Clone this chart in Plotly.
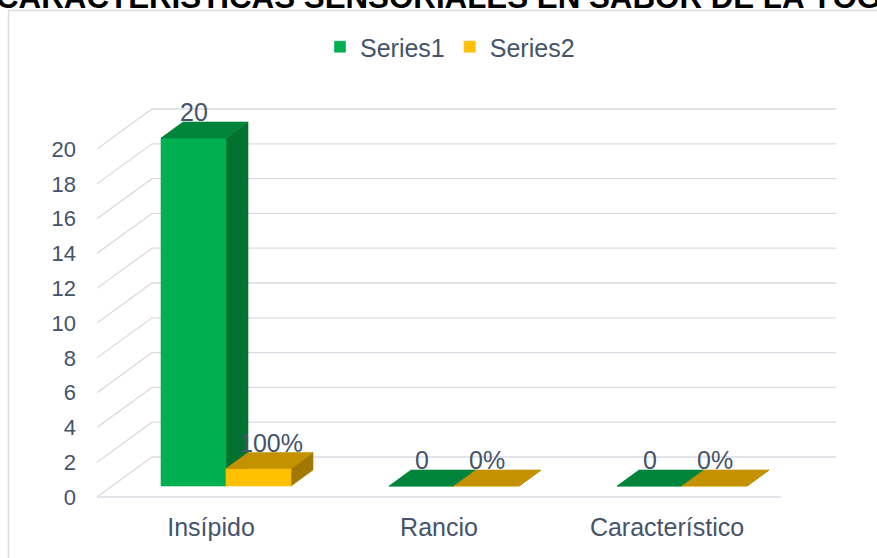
import plotly.graph_objects as go

# ---------------- data ----------------
categories = ["Insípido", "Rancio", "Característico"]
series_names = ["Series1", "Series2"]
series1 = [20, 0, 0]
series2 = [1.0, 0.0, 0.0]          # shown as percentages
y_ticks = [0, 2, 4, 6, 8, 10, 12, 14, 16, 18, 20]
title_text = "CARACTERÍSTICAS SENSORIALES EN SABOR DE LA YOGURT"

# ---------------- styling / geometry ----------------
W, H = 877, 558
TXT = "#44546A"
GRID = "#D9DCE2"
FONT = "Arial, Liberation Sans, sans-serif"
front_cols = ["#00B050", "#FFC000"]
top_cols = ["#00843B", "#C49100"]
side_cols = ["#00712F", "#A17800"]

X0_PX, CAT_PX = 97, 228      # front floor left edge, px per category
Y0_PX, UNIT_PX = 497, 17.4   # front floor y, px per unit
plot_left, plot_right, plot_top, plot_bottom = 97, 845, 95, 502
xr = [-0.5 + (plot_left - X0_PX) / CAT_PX, -0.5 + (plot_right - X0_PX) / CAT_PX]
yr = [(Y0_PX - plot_bottom) / UNIT_PX, (Y0_PX - plot_top) / UNIT_PX]


def px_x(px):
    return (px - plot_left) / (plot_right - plot_left)


def px_y(py):
    return (plot_bottom - py) / (plot_bottom - plot_top)


WALL_DX, WALL_DY = 55 / CAT_PX, 40 / UNIT_PX
BAR_DX, BAR_DY = 15 / CAT_PX, 11 / UNIT_PX
DEP_DX, DEP_DY = 22 / CAT_PX, 16 / UNIT_PX
BAR_W = 65 / CAT_PX

fig = go.Figure()

# back wall gridlines + left diagonals + floor front edge
gx, gy = [], []
for v in y_ticks:
    gx += [-0.5, -0.5 + WALL_DX, 2.5 + WALL_DX, None]
    gy += [v, v + WALL_DY, v + WALL_DY, None]
gx += [-0.5, 2.5, None]
gy += [0, 0, None]
fig.add_trace(go.Scatter(x=gx, y=gy, mode="lines", line=dict(color=GRID, width=1.3),
                         hoverinfo="skip", showlegend=False))

all_series = [series1, series2]
annotations = []
for i, cat in enumerate(categories):
    for s, vals in enumerate(all_series):
        v = vals[i]
        xl = i + (s - 1) * BAR_W + BAR_DX
        xr_ = xl + BAR_W
        yb = BAR_DY
        yt = BAR_DY + v
        faces = [
            ([xr_, xr_ + DEP_DX, xr_ + DEP_DX, xr_, xr_],
             [yb, yb + DEP_DY, yt + DEP_DY, yt, yb], side_cols[s]),
            ([xl, xr_, xr_, xl, xl], [yb, yb, yt, yt, yb], front_cols[s]),
            ([xl, xr_, xr_ + DEP_DX, xl + DEP_DX, xl],
             [yt, yt, yt + DEP_DY, yt + DEP_DY, yt], top_cols[s]),
        ]
        for fx, fy, col in faces:
            fig.add_trace(go.Scatter(x=fx, y=fy, mode="lines", fill="toself",
                                     fillcolor=col, line=dict(color=col, width=0.6),
                                     hoverinfo="skip", showlegend=False))
        label = f"{v:g}" if s == 0 else f"{v:.0%}"
        annotations.append(dict(x=(xl + xr_) / 2, y=yt + DEP_DY, xref="x", yref="y",
                                text=label, showarrow=False, yanchor="middle", yshift=10,
                                xshift=12 if (s == 1 and v > 0) else 0,
                                font=dict(size=25, color=TXT, family=FONT)))

# legend entries
for s, name in enumerate(series_names):
    fig.add_trace(go.Bar(x=[None], y=[None], name=name, marker_color=front_cols[s]))

# title (cut off at top of the picture)
annotations.append(dict(x=px_x(-6), y=px_y(17), xref="paper", yref="paper",
                        xanchor="left", yanchor="bottom", showarrow=False,
                        text=f"<b>{title_text}</b>",
                        font=dict(size=31.3, color="#000000", family=FONT)))

fig.update_layout(
    width=W, height=H,
    margin=dict(l=plot_left, r=W - plot_right, t=plot_top, b=H - plot_bottom),
    paper_bgcolor="white", plot_bgcolor="white",
    font=dict(family=FONT, color=TXT),
    showlegend=True,
    legend=dict(orientation="h", x=px_x(450), xanchor="center", y=px_y(47),
                yanchor="middle", font=dict(size=25, color=TXT), itemwidth=30,
                bgcolor="rgba(0,0,0,0)"),
    xaxis=dict(range=xr, tickvals=[0, 1, 2], ticktext=categories, showgrid=False,
               zeroline=False, showline=False, ticks="", ticklabelstandoff=8,
               tickfont=dict(size=25, color=TXT, family=FONT)),
    yaxis=dict(range=yr, tickvals=y_ticks, showgrid=False, zeroline=False,
               showline=False, ticks="", ticklabelstandoff=20,
               tickfont=dict(size=22, color=TXT, family=FONT)),
    annotations=annotations,
    shapes=[dict(type="rect", xref="paper", yref="paper",
                 x0=px_x(8.5), x1=px_x(920), y0=px_y(10.5), y1=px_y(620),
                 line=dict(color="#D9DCE2", width=1.5))],
)

fig.write_html("out.html")
